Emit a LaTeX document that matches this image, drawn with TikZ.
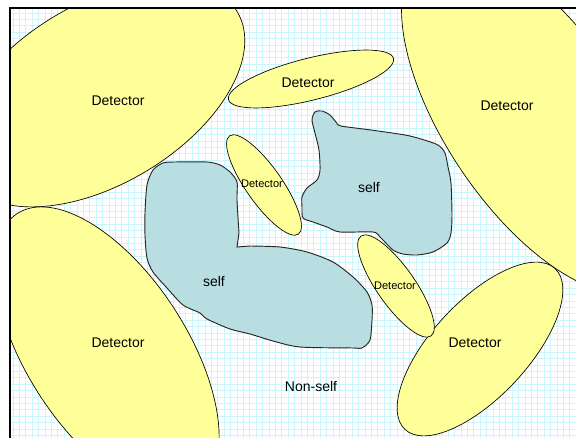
\documentclass[tikz,border=0pt]{standalone}
\usepackage{fontspec}
\setmainfont{Liberation Sans}
\usepackage{tikz}
\definecolor{detyellow}{RGB}{255,255,153}
\definecolor{selfblue}{RGB}{185,222,225}
\definecolor{gridcyan}{RGB}{200,246,252}

\begin{document}
\begin{tikzpicture}[x=0.75pt,y=-0.75pt]
	\tikzstyle{every node}+=[inner sep=0pt]
	\tikzstyle{detector}=[fill=detyellow,draw=black,line width=0.5pt]
	\tikzstyle{selfregion}=[fill=selfblue,draw=black!85,line width=0.7pt]
	\tikzstyle{big}=[font=\fontsize{10.5}{12}\selectfont]
	\tikzstyle{small}=[font=\fontsize{8.3}{10}\selectfont]
	\useasboundingbox (0,0) rectangle (576,438);
	\fill [white] (0,0) rectangle (576,438);
	\begin{scope}
	\clip (10,8) rectangle (576,438);
	\draw [gridcyan,line width=0.4pt,step=4.8pt] (10,8) grid (576,438);
	% self regions
	\draw [selfregion] plot [smooth,tension=0.45] coordinates {(250,246) (280,247) (307,252) (333,262) (353,277) (367,292) (372,305) (372,320) (370,340) (362,348) (353,348) (300,347) (273,341) (250,334) (230,329) (207,319) (200,313) (183,305) (167,288) (153,272) (147,258) (145,235) (145,213) (147,185) (153,170) (163,163) (175,162) (207,162) (220,165) (230,172) (237,182) (237,200) (239,233)} -- (237,247) -- cycle;
	\draw [selfregion] plot [smooth cycle,tension=0.45] coordinates {(315,112) (322,111) (330,115) (336,122) (341,126) (371,130) (405,135) (421,139) (438,145) (445,153) (448,167) (451,183) (452,215) (451,233) (447,243) (433,252) (417,255) (403,254) (393,250) (380,237) (373,232) (340,232) (327,227) (313,222) (303,218) (302,207) (302,197) (307,188) (317,180) (320,170) (319,150) (315,133) (312,120)};
	% detectors
	\draw [detector,rotate around={31:(100,94)}] (100,94) ellipse (160 and 90);
	\draw [detector,rotate around={-57:(107,352)}] (107,352) ellipse (165 and 80);
	\draw [detector,rotate around={-56:(536,120)}] (536,120) ellipse (200 and 90);
	\draw [detector,rotate around={47:(480,349)}] (480,349) ellipse (110 and 48);
	\draw [detector,rotate around={14:(311,79)}] (311,79) ellipse (85 and 21);
	\draw [detector,rotate around={-55:(264,185)}] (264,185) ellipse (60 and 18);
	\draw [detector,rotate around={-55:(396,286)}] (396,286) ellipse (61 and 19);
	\end{scope}
	% frame
	\draw [black,line width=1.1pt] (576,8) -- (10,8) -- (10,438);
	% labels
	\node [big] (dtl) at (118,101) {Detector};
	\node [big] (dtop) at (308,83) {Detector};
	\node [big] (dtr) at (507,106) {Detector};
	\node [small] (dsa) at (262,184) {Detector};
	\node [small] (dsb) at (395,286) {Detector};
	\node [big] (dbl) at (118,343) {Detector};
	\node [big] (dbr) at (475,343) {Detector};
	\node [big] (sa) at (214,281) {self};
	\node [big] (sb) at (369,187) {self};
	\node [big] (ns) at (311,386) {Non-self};
\end{tikzpicture}
\end{document}
